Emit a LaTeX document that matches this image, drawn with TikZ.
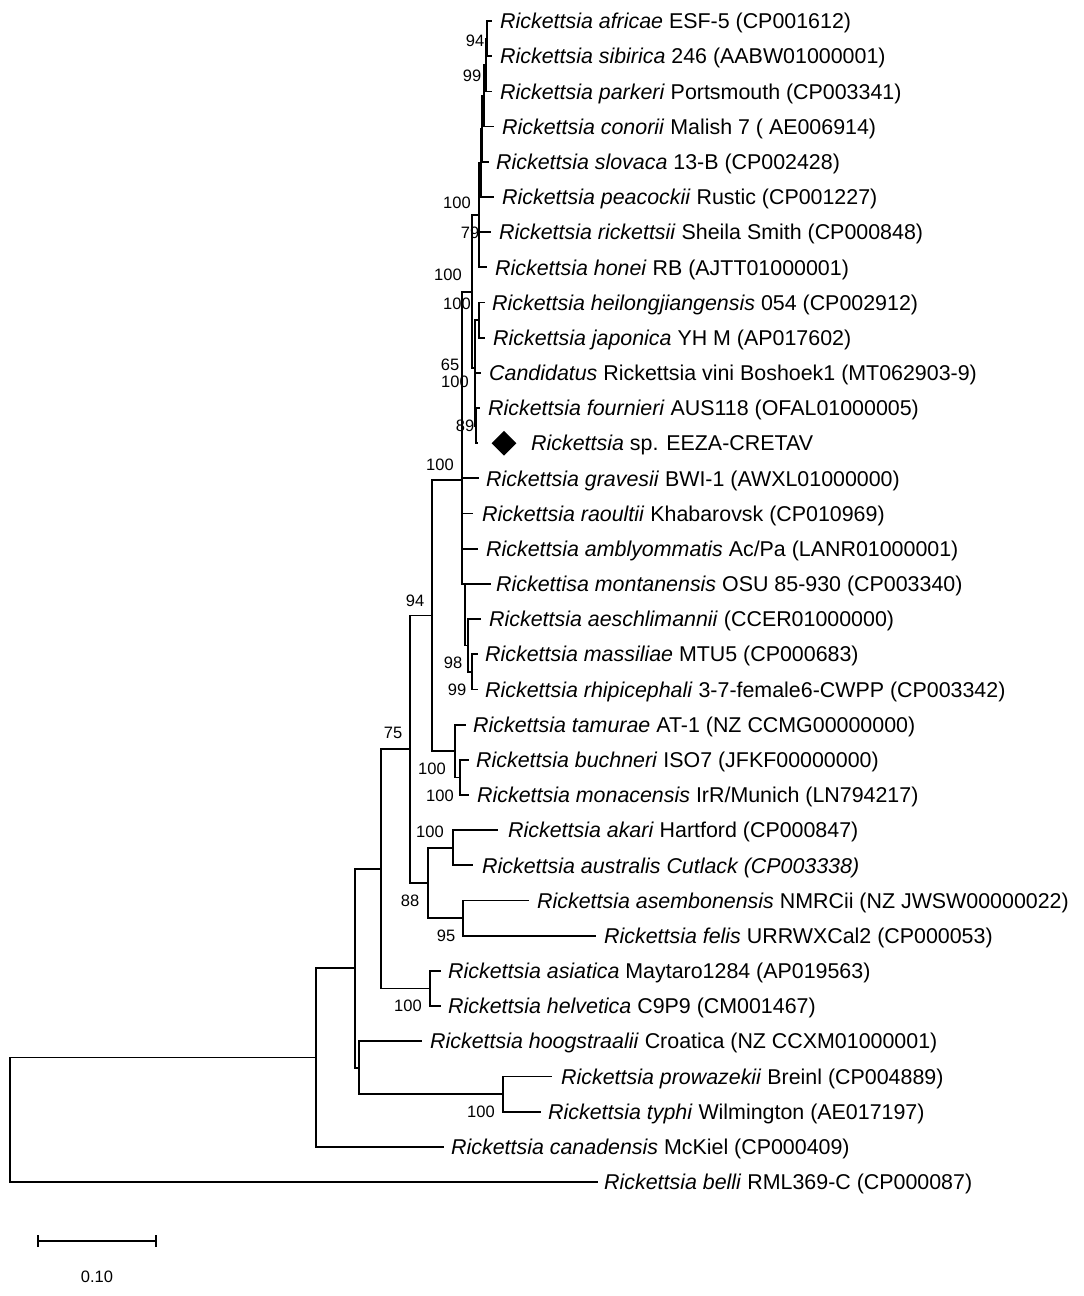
\documentclass[tikz,border=0pt]{standalone}
\usepackage{fontspec}
\setmainfont{Liberation Sans}
\usetikzlibrary{shapes.geometric}
\begin{document}
\begin{tikzpicture}[x=1pt,y=-1pt,
  br/.style={line width=1.8pt, line cap=rect},
  lab/.style={anchor=base west, inner sep=0pt, font=\fontsize{21.4}{24}\selectfont},
  bs/.style={inner sep=0pt, font=\fontsize{16.5}{18}\selectfont}]
\useasboundingbox (0,0) rectangle (1084,1296);
% ---------- tips ----------
\coordinate (t1) at (491,21.0);   \coordinate (t2) at (491,56.2);
\coordinate (t3) at (491,91.4);   \coordinate (t4) at (493,126.5);
\coordinate (t5) at (488,161.7);  \coordinate (t6) at (493,196.9);
\coordinate (t7) at (490,232.1);  \coordinate (t8) at (486,267.3);
\coordinate (t9) at (484,302.4);  \coordinate (t10) at (484,337.6);
\coordinate (t11) at (480,372.8); \coordinate (t12) at (479,408.0);
\coordinate (t13) at (477,443.2); \coordinate (t14) at (478,478.3);
\coordinate (t15) at (472,513.5); \coordinate (t16) at (477,548.7);
\coordinate (t17) at (490,583.9); \coordinate (t18) at (480,619.1);
\coordinate (t19) at (477,654.2); \coordinate (t20) at (477,689.4);
\coordinate (t21) at (465,724.6); \coordinate (t22) at (468,759.8);
\coordinate (t23) at (468,795.0); \coordinate (t24) at (497,830.1);
\coordinate (t25) at (472,865.3); \coordinate (t26) at (528,900.5);
\coordinate (t27) at (595,935.7); \coordinate (t28) at (440,970.9);
\coordinate (t29) at (440,1006.0);\coordinate (t30) at (421,1041.2);
\coordinate (t31) at (551,1076.4);\coordinate (t32) at (540,1111.6);
\coordinate (t33) at (443,1146.8);\coordinate (t34) at (597,1182.0);
% ---------- internal nodes ----------
\coordinate (n94) at (487,38.6);
\coordinate (n99) at (486,65.0);
\coordinate (nC) at (484,95.8);
\coordinate (nD) at (482,128.7);
\coordinate (nE) at (481,162.8);
\coordinate (nX) at (479,215.0);
\coordinate (nTop) at (472,292.0);
\coordinate (nH) at (479,320.0);
\coordinate (n89) at (476,425.6);
\coordinate (nLow) at (475,368.0);
\coordinate (spine) at (462,480.0);
\coordinate (nMR) at (472,671.8);
\coordinate (nAMR) at (468,645.5);
\coordinate (nM) at (465,583.9);
\coordinate (nTB) at (460,777.4);
\coordinate (nT) at (455,751.0);
\coordinate (nSFG) at (432,615.5);
\coordinate (nAA) at (453,847.7);
\coordinate (nAF) at (463,918.1);
\coordinate (n88) at (428,882.9);
\coordinate (nMid) at (410,749.2);
\coordinate (nAH) at (430,988.5);
\coordinate (n382) at (381,868.8);
\coordinate (nPT) at (503,1094.0);
\coordinate (nHPT) at (359,1067.6);
\coordinate (n355) at (355,968.2);
\coordinate (n316) at (316,1057.5);
\coordinate (root) at (10,1119.7);
% ---------- branches ----------
\draw[br] (n94) |- (t1); \draw[br] (n94) |- (t2);
\draw[br] (n99) |- (n94); \draw[br] (n99) |- (t3);
\draw[br] (nC) |- (n99); \draw[br] (nC) |- (t4);
\draw[br] (nD) |- (nC); \draw[br] (nD) |- (t5);
\draw[br] (nE) |- (nD); \draw[br] (nE) |- (t6);
\draw[br] (nX) |- (nE); \draw[br] (nX) |- (t7); \draw[br] (nX) |- (t8);
\draw[br] (nH) |- (t9); \draw[br] (nH) |- (t10);
\draw[br] (n89) |- (t12); \draw[br] (n89) |- (t13);
\draw[br] (nLow) |- (nH); \draw[br] (nLow) |- (t11); \draw[br] (nLow) |- (n89);
\draw[br] (nTop) |- (nX); \draw[br] (nTop) |- (nLow);
\draw[br] (spine) |- (nTop); \draw[br] (spine) |- (t14);
\draw[br] (spine) |- (t15); \draw[br] (spine) |- (t16);
\draw[br] (spine) |- (nM);
\draw[br] (nMR) |- (t19); \draw[br] (nMR) |- (t20);
\draw[br] (nAMR) |- (t18); \draw[br] (nAMR) |- (nMR);
\draw[br] (nM) |- (t17); \draw[br] (nM) |- (nAMR);
\draw[br] (nTB) |- (t22); \draw[br] (nTB) |- (t23);
\draw[br] (nT) |- (t21); \draw[br] (nT) |- (nTB);
\draw[br] (nSFG) |- (spine); \draw[br] (nSFG) |- (nT);
\draw[br] (nAA) |- (t24); \draw[br] (nAA) |- (t25);
\draw[br] (nAF) |- (t26); \draw[br] (nAF) |- (t27);
\draw[br] (n88) |- (nAA); \draw[br] (n88) |- (nAF);
\draw[br] (nMid) |- (nSFG); \draw[br] (nMid) |- (n88);
\draw[br] (nAH) |- (t28); \draw[br] (nAH) |- (t29);
\draw[br] (n382) |- (nMid); \draw[br] (n382) |- (nAH);
\draw[br] (nPT) |- (t31); \draw[br] (nPT) |- (t32);
\draw[br] (nHPT) |- (t30); \draw[br] (nHPT) |- (nPT);
\draw[br] (n355) |- (n382); \draw[br] (n355) |- (nHPT);
\draw[br] (n316) |- (n355); \draw[br] (n316) |- (t33);
\draw[br] (root) |- (n316); \draw[br] (root) |- (t34);
% ---------- leaf labels ----------
\node[lab] (L1) at (500,28.7) {\textit{Rickettsia africae} ESF-5 (CP001612)};
\node[lab] (L2) at (500,63.9) {\textit{Rickettsia sibirica} 246 (AABW01000001)};
\node[lab] (L3) at (500,99.1) {\textit{Rickettsia parkeri} Portsmouth (CP003341)};
\node[lab] (L4) at (502,134.2) {\textit{Rickettsia conorii} Malish 7 ( AE006914)};
\node[lab] (L5) at (496,169.4) {\textit{Rickettsia slovaca} 13-B (CP002428)};
\node[lab] (L6) at (502,204.6) {\textit{Rickettsia peacockii} Rustic (CP001227)};
\node[lab] (L7) at (499,239.8) {\textit{Rickettsia rickettsii} Sheila Smith (CP000848)};
\node[lab] (L8) at (495,275.0) {\textit{Rickettsia honei} RB (AJTT01000001)};
\node[lab] (L9) at (492,310.1) {\textit{Rickettsia heilongjiangensis} 054 (CP002912)};
\node[lab] (L10) at (493,345.3) {\textit{Rickettsia japonica} YH M (AP017602)};
\node[lab] (L11) at (489,380.5) {\textit{Candidatus} Rickettsia vini Boshoek1 (MT062903-9)};
\node[lab] (L12) at (488,415.7) {\textit{Rickettsia fournieri} AUS118 (OFAL01000005)};
\node[diamond, fill=black, inner sep=0pt, minimum width=25pt, minimum height=25pt] (dia) at (504,443.2) {};
\node[lab] (L13) at (531,450.9) {\textit{Rickettsia} sp. EEZA-CRETAV};
\node[lab] (L14) at (486,486.0) {\textit{Rickettsia gravesii} BWI-1 (AWXL01000000)};
\node[lab] (L15) at (482,521.2) {\textit{Rickettsia raoultii} Khabarovsk (CP010969)};
\node[lab] (L16) at (486,556.4) {\textit{Rickettsia amblyommatis} Ac/Pa (LANR01000001)};
\node[lab] (L17) at (496,591.6) {\textit{Rickettisa montanensis} OSU 85-930 (CP003340)};
\node[lab] (L18) at (489,626.8) {\textit{Rickettsia aeschlimannii} (CCER01000000)};
\node[lab] (L19) at (485,661.9) {\textit{Rickettsia massiliae} MTU5 (CP000683)};
\node[lab] (L20) at (485,697.1) {\textit{Rickettsia rhipicephali} 3-7-female6-CWPP (CP003342)};
\node[lab] (L21) at (473,732.3) {\textit{Rickettsia tamurae} AT-1 (NZ CCMG00000000)};
\node[lab] (L22) at (476,767.5) {\textit{Rickettsia buchneri} ISO7 (JFKF00000000)};
\node[lab] (L23) at (477,802.7) {\textit{Rickettsia monacensis} IrR/Munich (LN794217)};
\node[lab] (L24) at (508,837.8) {\textit{Rickettsia akari} Hartford (CP000847)};
\node[lab] (L25) at (482,873.0) {\textit{Rickettsia australis Cutlack (CP003338)}};
\node[lab] (L26) at (537,908.2) {\textit{Rickettsia asembonensis} NMRCii (NZ JWSW00000022)};
\node[lab] (L27) at (604,943.4) {\textit{Rickettsia felis} URRWXCal2 (CP000053)};
\node[lab] (L28) at (448,978.6) {\textit{Rickettsia asiatica} Maytaro1284 (AP019563)};
\node[lab] (L29) at (448,1013.7) {\textit{Rickettsia helvetica} C9P9 (CM001467)};
\node[lab] (L30) at (430,1048.9) {\textit{Rickettsia hoogstraalii} Croatica (NZ CCXM01000001)};
\node[lab] (L31) at (561,1084.1) {\textit{Rickettsia prowazekii} Breinl (CP004889)};
\node[lab] (L32) at (548,1119.3) {\textit{Rickettsia typhi} Wilmington (AE017197)};
\node[lab] (L33) at (451,1154.5) {\textit{Rickettsia canadensis} McKiel (CP000409)};
\node[lab] (L34) at (604,1189.7) {\textit{Rickettsia belli} RML369-C (CP000087)};
% ---------- bootstrap values ----------
\node[bs] (b1) at (475,41) {94};
\node[bs] (b2) at (472,76) {99};
\node[bs] (b3) at (457,203) {100};
\node[bs] (b4) at (470,233) {79};
\node[bs] (b5) at (448,275) {100};
\node[bs] (b6) at (457,304) {100};
\node[bs] (b7) at (450,365) {65};
\node[bs] (b8) at (455,382) {100};
\node[bs] (b9) at (465,426) {89};
\node[bs] (b10) at (440,465) {100};
\node[bs] (b11) at (415,601) {94};
\node[bs] (b12) at (453,663) {98};
\node[bs] (b13) at (457,690) {99};
\node[bs] (b14) at (393,733) {75};
\node[bs] (b15) at (432,769) {100};
\node[bs] (b16) at (440,796) {100};
\node[bs] (b17) at (430,832) {100};
\node[bs] (b18) at (410,901) {88};
\node[bs] (b19) at (446,936) {95};
\node[bs] (b20) at (408,1006) {100};
\node[bs] (b21) at (481,1112) {100};
% ---------- scale bar ----------
\coordinate (s1) at (38,1241);
\coordinate (s2) at (156,1241);
\draw[br, line cap=butt] (s1) -- (s2);
\draw[br, line cap=butt] ([yshift=-6pt]s1) -- ([yshift=6pt]s1);
\draw[br, line cap=butt] ([yshift=-6pt]s2) -- ([yshift=6pt]s2);
\node[bs] (sl) at (97,1277) {0.10};
\end{tikzpicture}
\end{document}
